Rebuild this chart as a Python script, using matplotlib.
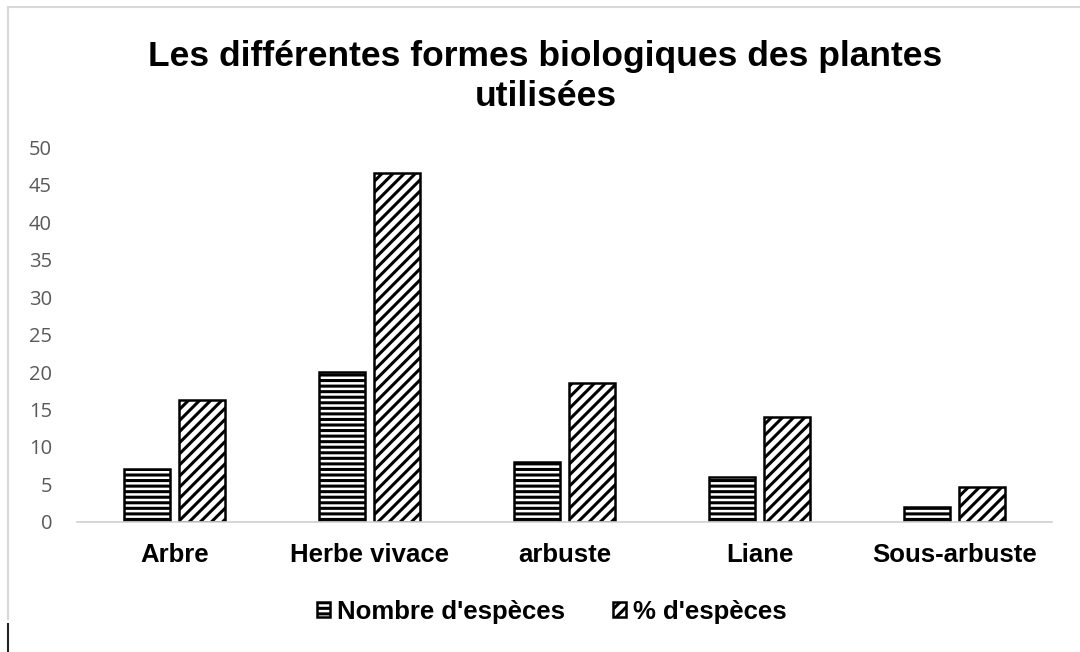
import matplotlib
matplotlib.use('Agg')
import matplotlib.pyplot as plt
from matplotlib.lines import Line2D
import numpy as np

# donnees
categories = ['Arbre', 'Herbe vivace', 'arbuste', 'Liane', 'Sous-arbuste']
nombre = [7, 20, 8, 6, 2]
pourcent = [16.28, 46.51, 18.60, 13.95, 4.65]
series = ["Nombre d'espèces", "% d'espèces"]
yticks = [0, 5, 10, 15, 20, 25, 30, 35, 40, 45, 50]

plt.rcParams['hatch.linewidth'] = 2.2
plt.rcParams['font.family'] = ['Liberation Sans', 'DejaVu Sans']

fig = plt.figure(figsize=(10.8, 6.52), dpi=100)
ax = fig.add_axes([0.0713, 0.1994, 0.9027, 0.5751])

x = np.arange(len(categories))
w = 0.235
ax.bar(x - 0.14, nombre, w, color='white', edgecolor='black', hatch='---',
       linewidth=1.8, label=series[0])
ax.bar(x + 0.14, pourcent, w, color='white', edgecolor='black', hatch='///',
       linewidth=1.8, label=series[1])

ax.set_xlim(-0.5, len(categories) - 0.5)
ax.set_ylim(0, 50)
ax.set_yticks(yticks)
ax.set_xticks(x)
ax.set_xticklabels(categories, fontsize=18.5, fontweight='bold')
for lab in ax.get_yticklabels():
    lab.set_family(['Open Sans', 'DejaVu Sans'])
    lab.set_fontsize(14.5)
    lab.set_color('#595959')
ax.tick_params(axis='y', length=0, pad=18)
ax.tick_params(axis='x', length=0, pad=15)
for s in ['top', 'right', 'left']:
    ax.spines[s].set_visible(False)
ax.spines['bottom'].set_color('#d0d0d0')
ax.spines['bottom'].set_linewidth(1.2)

fig.suptitle('Les différentes formes biologiques des plantes\nutilisées',
             fontsize=25.5, fontweight='bold', x=0.505, y=0.938, linespacing=1.25)

leg = fig.legend(loc='center', bbox_to_anchor=(0.511, 0.062), ncol=2, frameon=False,
                 handlelength=0.5, handleheight=0.5, handletextpad=0.25,
                 columnspacing=1.9, prop={'size': 18.5, 'weight': 'bold'})

# cadre gris clair et petit trait noir en bas a gauche
fig.add_artist(Line2D([0.007, 1.0], [0.989, 0.989], color='#d8d8d8', lw=1.5))
fig.add_artist(Line2D([0.007, 0.007], [0.989, 0.05], color='#d8d8d8', lw=1.5))
fig.add_artist(Line2D([0.007, 0.007], [0.043, 0.0], color='#222222', lw=1.5))

fig.savefig('out.png', dpi=100)
